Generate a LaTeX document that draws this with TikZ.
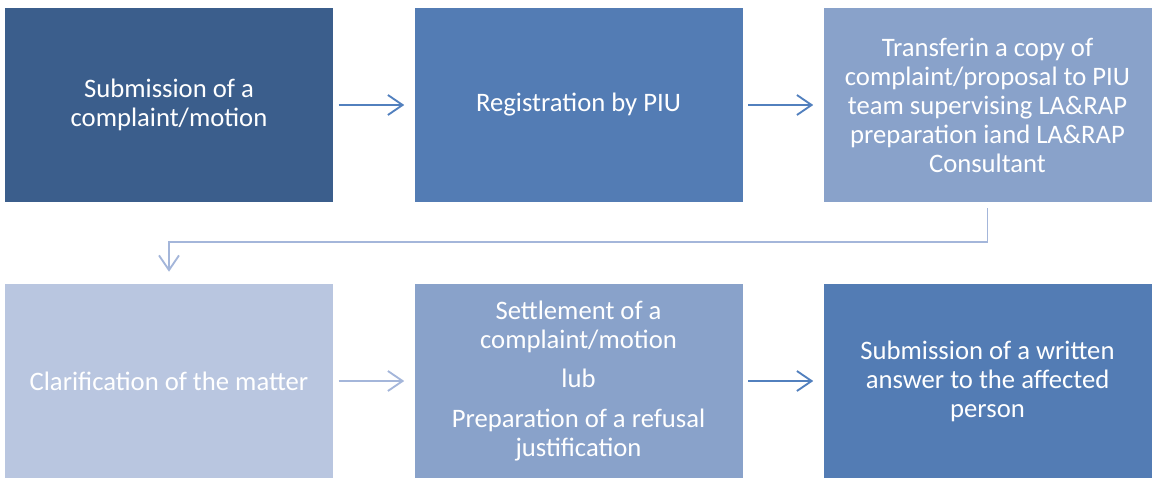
\documentclass[tikz,border=0pt]{standalone}
\usepackage{fontspec}
\setmainfont{Carlito}
\usepackage{xcolor}
\usetikzlibrary{arrows.meta,positioning}

\definecolor{stepdark}{HTML}{3B5E8C}
\definecolor{stepmid}{HTML}{537CB4}
\definecolor{steplight}{HTML}{89A2CA}
\definecolor{steppale}{HTML}{B9C6E0}
\definecolor{arrdark}{HTML}{5280BE}
\definecolor{arrpale}{HTML}{A4B6DA}

\tikzset{
	stepbox/.style={rectangle,minimum width=246pt,minimum height=145.5pt,inner sep=0pt,
		text=white,align=center,font=\fontsize{20}{21.75}\selectfont},
	flow/.style={line width=1.4pt,-{Straight Barb[length=11pt,width=15pt,line width=1.4pt]}},
}

\begin{document}
\begin{tikzpicture}[x=0.75pt,y=-0.75pt]
	\useasboundingbox (0,0) rectangle (1155,485);
	% top row
	\node[stepbox,fill=stepdark]	(submit)	at (169,105)	{Submission of a\\complaint/motion};
	\node[stepbox,fill=stepmid]	(register)	at (578.5,105)	{Registration by PIU};
	\node[stepbox,fill=steplight]	(transfer)	at (987.5,105)	{Transferin a copy of\\complaint/proposal to PIU\\team supervising LA\&RAP\\preparation iand LA\&RAP\\Consultant};
	% bottom row
	\node[stepbox,fill=steppale]	(clarify)	at (169,381)	{Clarification of the matter};
	\node[stepbox,fill=steplight]	(settle)	at (578.5,381)	{Settlement of a\\complaint/motion\\[8pt]lub\\[8pt]Preparation of a refusal\\justification};
	\node[stepbox,fill=stepmid]	(answer)	at (987.5,381)	{Submission of a written\\answer to the affected\\person};
	% connectors
	\draw[flow,arrdark]	([xshift=4pt]submit.east) -- ([xshift=-7.5pt]register.west);
	\draw[flow,arrdark]	([xshift=4pt]register.east) -- ([xshift=-7.5pt]transfer.west);
	\draw[flow,arrpale]	([xshift=4pt]clarify.east) -- ([xshift=-7.5pt]settle.west);
	\draw[flow,arrdark]	([xshift=4pt]settle.east) -- ([xshift=-7.5pt]answer.west);
	\coordinate (bend) at (0,242);
	\draw[flow,arrpale]	([yshift=-4.5pt]transfer.south) |- (bend -| clarify) -- ([yshift=9pt]clarify.north);
\end{tikzpicture}
\end{document}
